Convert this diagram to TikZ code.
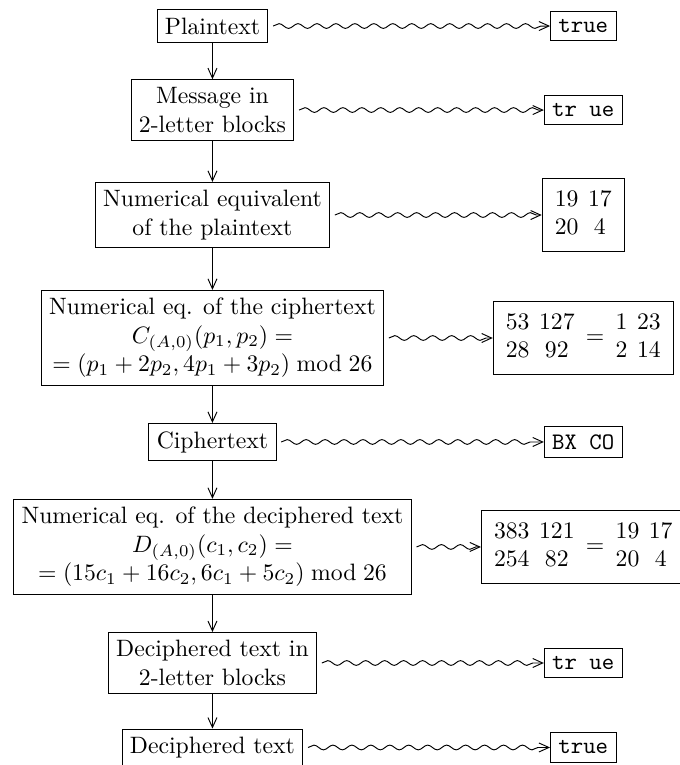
\documentclass[tikz,border=0pt]{standalone}
\usepackage{amsmath, amssymb}
\usepackage{tikz}
\usetikzlibrary{positioning, arrows.meta, decorations.pathmorphing}
\setlength{\arraycolsep}{2pt}
\newcommand{\numpairs}[4]{\begin{array}{cc}#1 & #2\\ #3 & #4\end{array}}

\begin{document}
\begin{tikzpicture}[node distance=1.5cm]
    \tikzstyle{block} = [draw, rectangle, align=center, line width=0.4pt]
    \tikzstyle{result} = [draw, rectangle, align=center, line width=0.4pt]
    \tikzstyle{arrow} = [-{Straight Barb[length=4.2pt,width=3.8pt]}]
    \tikzstyle{wave} = [arrow, decorate, decoration={snake, amplitude=1pt, segment length=8pt, pre=moveto, pre length=2pt, post length=2pt}]

    \useasboundingbox (-3.151,0.386) rectangle (6.933,-10.96);

    % Nodes
    \node (plain) [block] {Plaintext};
    \node (blocks) [block, below of=plain, node distance=1.246cm] {Message in\\2-letter blocks};
    \node (numeq) [block, below of=blocks, node distance=1.557cm] {Numerical equivalent\\of the plaintext};
    \node (ciphereq) [block, below of=numeq, node distance=1.824cm] {Numerical eq. of the ciphertext\\$C_{(A,0)}(p_1,p_2)=$\\$=(p_1+2p_2,4p_1+3p_2)\bmod 26$};
    \node (cipher) [block, below of=ciphereq, node distance=1.542cm] {Ciphertext};
    \node (deciphereq) [block, below of=cipher, node distance=1.557cm] {Numerical eq. of the deciphered text\\$D_{(A,0)}(c_1,c_2)=$\\$=(15c_1+16c_2,6c_1+5c_2)\bmod 26$};
    \node (decblocks) [block, below of=deciphereq, node distance=1.721cm] {Deciphered text in\\2-letter blocks};
    \node (dectext) [block, below of=decblocks, node distance=1.253cm] {Deciphered text};

    \node (plainval) [result, right of=plain, node distance=5.5cm] {\texttt{true}};
    \node (blocksval) [result, right of=blocks, node distance=5.5cm] {\texttt{tr ue}};
    \node (numval) [result, right of=numeq, node distance=5.5cm] {$\numpairs{19}{17}{20}{4}$};
    \node (ciphereqval) [result, right of=ciphereq, node distance=5.5cm] {$\numpairs{53}{127}{28}{92}=\numpairs{1}{23}{2}{14}$};
    \node (cipherval) [result, right of=cipher, node distance=5.5cm] {\texttt{BX CO}};
    \node (deciphereqval) [result, right of=deciphereq, node distance=5.5cm] {$\numpairs{383}{121}{254}{82}=\numpairs{19}{17}{20}{4}$};
    \node (decblocksval) [result, right of=decblocks, node distance=5.5cm] {\texttt{tr ue}};
    \node (dectextval) [result, right of=dectext, node distance=5.5cm] {\texttt{true}};

    % Arrows
    \draw [arrow] (plain) -- (blocks);
    \draw [arrow] (blocks) -- (numeq);
    \draw [arrow] (numeq) -- (ciphereq);
    \draw [arrow] (ciphereq) -- (cipher);
    \draw [arrow] (cipher) -- (deciphereq);
    \draw [arrow] (deciphereq) -- (decblocks);
    \draw [arrow] (decblocks) -- (dectext);

    % Wavy arrows
    \draw [wave] (plain) -- (plainval);
    \draw [wave] (blocks) -- (blocksval);
    \draw [wave] (numeq) -- (numval);
    \draw [wave] (ciphereq) -- (ciphereqval);
    \draw [wave] (cipher) -- (cipherval);
    \draw [wave] (deciphereq) -- (deciphereqval);
    \draw [wave] (decblocks) -- (decblocksval);
    \draw [wave] (dectext) -- (dectextval);
\end{tikzpicture}
\end{document}
